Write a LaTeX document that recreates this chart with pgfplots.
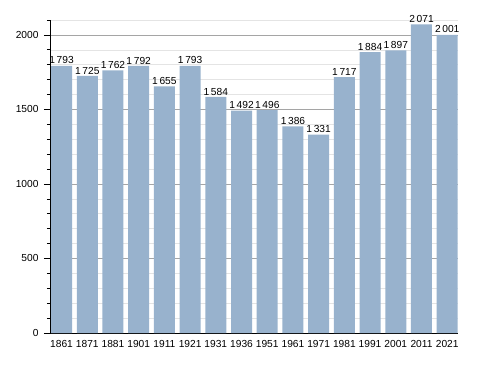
\documentclass[border=0pt]{standalone}
\usepackage{fontspec}
\setmainfont{Liberation Sans}
\usepackage{pgfplots}
\pgfplotsset{compat=1.18}
\definecolor{barblue}{RGB}{152,178,205}
\definecolor{majgrid}{RGB}{165,165,165}
\definecolor{mingrid}{RGB}{228,228,228}
\begin{document}
\begin{tikzpicture}
\useasboundingbox (0,0) rectangle (488pt,373pt);
\begin{axis}[
  at={(50pt,40pt)}, anchor=south west,
  scale only axis, width=408pt, height=313pt,
  xmin=-0.45, xmax=15.42, ymin=0, ymax=2100,
  axis x line*=bottom, axis y line*=left,
  axis line style={black, line width=0.9pt, -},
  xtick={0,...,15},
  xticklabels={1861,1871,1881,1901,1911,1921,1931,1936,1951,1961,1971,1981,1991,2001,2011,2021},
  x tick style={draw=none},
  ytick={0,500,1000,1500,2000},
  minor ytick={100,200,300,400,600,700,800,900,1100,1200,1300,1400,1600,1700,1800,1900,2100},
  ymajorgrids, yminorgrids,
  major grid style={majgrid, line width=0.7pt},
  minor grid style={mingrid, line width=0.6pt},
  y tick style={black, line width=0.7pt},
  major tick length=6pt, minor tick length=3pt,
  tick align=outside,
  y tick label style={xshift=-2pt},
  scaled y ticks=false,
  y tick label style={/pgf/number format/fixed, /pgf/number format/1000 sep={}},
  /pgf/number format/assume math mode=true,
  tick label style={font=\fontsize{10.2}{12}\selectfont},
  x tick label style={yshift=2.5pt},
  ybar, bar width=21pt, bar shift=0pt,
  nodes near coords,
  nodes near coords style={font=\fontsize{10.2}{12}\selectfont, inner sep=1.5pt, /pgf/number format/fixed, /pgf/number format/1000 sep={\,}, /pgf/number format/assume math mode=true},
]
\addplot[draw=none, fill=barblue] coordinates {
(0,1793) (1,1725) (2,1762) (3,1792) (4,1655) (5,1793) (6,1584) (7,1492)
(8,1496) (9,1386) (10,1331) (11,1717) (12,1884) (13,1897) (14,2071) (15,2001)};
\end{axis}
\end{tikzpicture}
\end{document}
